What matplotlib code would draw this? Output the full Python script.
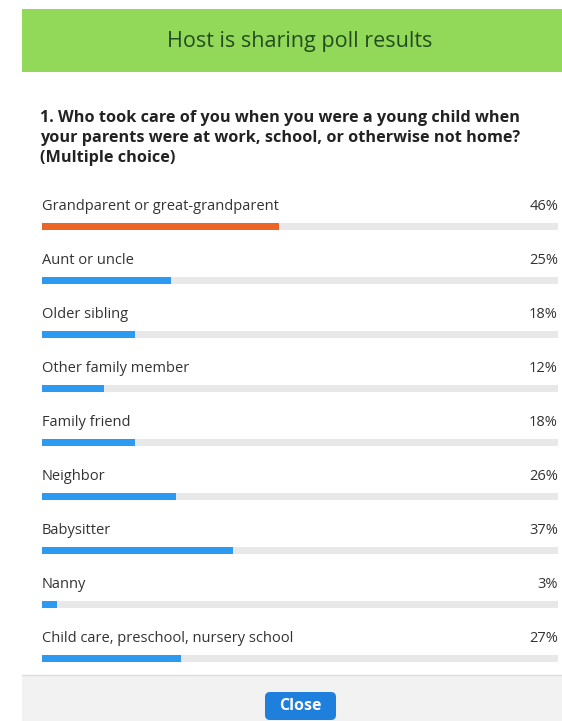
import matplotlib.pyplot as plt
from matplotlib.patches import Rectangle, FancyBboxPatch

# poll answers and share of votes (%)
options = ['Grandparent or great-grandparent', 'Aunt or uncle', 'Older sibling',
           'Other family member', 'Family friend', 'Neighbor', 'Babysitter',
           'Nanny', 'Child care, preschool, nursery school']
percents = [46, 25, 18, 12, 18, 26, 37, 3, 27]
highlight = 0  # top answer shown in orange

TITLE = 'Host is sharing poll results'
QUESTION = ['1. Who took care of you when you were a young child when',
            'your parents were at work, school, or otherwise not home?',
            '(Multiple choice)']

W, H = 562, 721
plt.rcParams['font.family'] = ['Open Sans', 'DejaVu Sans']

fig = plt.figure(figsize=(W / 100, H / 100), dpi=100)

# background axes in pixel coordinates for the dialog frame
bg = fig.add_axes([0, 0, 1, 1])
bg.set_xlim(0, W)
bg.set_ylim(H, 0)
bg.axis('off')
bg.add_patch(Rectangle((22, 9), W - 22, 63, color='#92d95a', lw=0))
bg.text(300, 42, TITLE, ha='center', va='center', fontsize=15.5, color='#234d1f')
for i, line in enumerate(QUESTION):
    bg.text(40, 118 + i * 20, line, ha='left', va='center', fontsize=11.7,
            fontweight='bold', color='#222222')
bg.add_patch(Rectangle((22, 675), W - 22, H - 675, color='#f2f2f2', lw=0))
bg.plot([22, W], [675, 675], color='#dcdcdc', lw=1)
bg.add_patch(FancyBboxPatch((265, 692), 71, 28, boxstyle='round,pad=0,rounding_size=5',
                            color='#1f7fdc', lw=0))
bg.text(300, 706, 'Close', ha='center', va='center', fontsize=11.5,
        fontweight='bold', color='white')

# bars axes: track from x=42 to 558 px, one row every 54 px
left, right = 42, 558
top = 199
n = len(options)
ax = fig.add_axes([left / W, 1 - (top + n * 54) / H, (right - left) / W, n * 54 / H])
ax.set_xlim(0, 100)
ax.set_ylim(n - 0.5, -0.5)
ax.axis('off')

rows = list(range(n))
colors = ['#eb6524' if i == highlight else '#2b9af0' for i in rows]
ax.barh(rows, [100] * n, height=7 / 54, color='#e8e8e8', lw=0)
ax.barh(rows, percents, height=7 / 54, color=colors, lw=0)

for i, (name, p) in enumerate(zip(options, percents)):
    ax.text(0, i - 20 / 54, name, ha='left', va='center', fontsize=10.5,
            color='#333333', clip_on=False)
    ax.text(100, i - 20 / 54, f'{p}%', ha='right', va='center', fontsize=10.5,
            color='#333333', clip_on=False)

plt.savefig('out.png', dpi=100)
